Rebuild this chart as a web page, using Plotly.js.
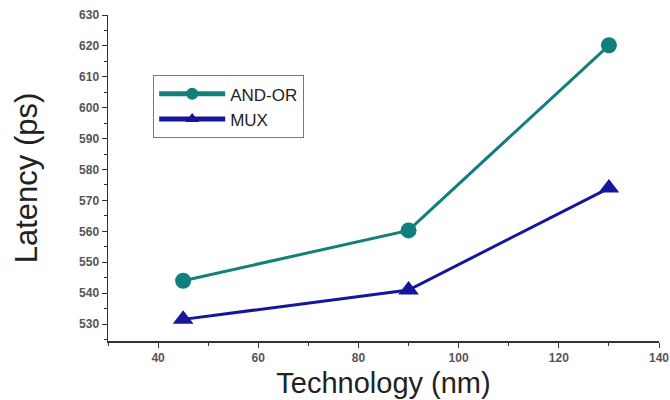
<!DOCTYPE html>
<html><head><meta charset="utf-8">
<script src="https://cdn.plot.ly/plotly-3.0.1.min.js"></script>
<style>body{margin:0;background:#fff}#c{width:670px;height:400px}</style>
</head><body><div id="c"></div>
<script>
const technology = [45, 90, 130];
const andOr = [544, 560.3, 620.2];
const mux = [531.5, 541, 574];
const xTicks = [40, 60, 80, 100, 120, 140];
const yTicks = [530, 540, 550, 560, 570, 580, 590, 600, 610, 620, 630];

const traces = [
  {x: technology, y: andOr, name: 'AND-OR', mode: 'lines+markers', type: 'scatter',
   line: {color: '#137f7c', width: 3}, marker: {symbol: 'circle', size: 16, color: '#137f7c'}},
  {x: technology, y: mux, name: 'MUX', mode: 'lines+markers', type: 'scatter',
   line: {color: '#16169c', width: 3}, marker: {symbol: 'triangle-up', size: 18, color: '#16169c'}}
];
const axFont = {family: 'Liberation Sans, Arial', size: 12, color: '#555', weight: 'bold'};
const layout = {
  width: 670, height: 400,
  margin: {l: 108, r: 11, t: 15, b: 59},
  paper_bgcolor: '#fff', plot_bgcolor: '#fff',
  showlegend: true,
  legend: {x: 0.082, y: 0.815, xanchor: 'left', yanchor: 'top', bordercolor: '#777', borderwidth: 1,
           font: {family: 'Liberation Sans, Arial', size: 17, color: '#222'}, bgcolor: '#fff',
           tracegroupgap: 0, itemwidth: 66, itemsizing: 'constant'},
  xaxis: {range: [30, 140], tickvals: xTicks, ticktext: xTicks.map(String), showgrid: false, zeroline: false,
          showline: true, linecolor: '#333', linewidth: 1.5, ticks: 'outside', ticklen: 5, tickcolor: '#333',
          tickfont: axFont, automargin: false,
          minor: {dtick: 10, tick0: 0, ticks: 'outside', ticklen: 3, tickcolor: '#333'},
          title: {text: 'Technology (nm)', font: {family: 'Liberation Sans, Arial', size: 29, color: '#222'}, standoff: 9}},
  yaxis: {range: [524.5, 630], tickvals: yTicks, ticktext: yTicks.map(String), showgrid: false, zeroline: false,
          showline: true, linecolor: '#333', linewidth: 1.5, ticks: 'outside', ticklen: 5, tickcolor: '#333',
          tickfont: axFont, automargin: false,
          minor: {dtick: 5, tick0: 0, ticks: 'outside', ticklen: 3, tickcolor: '#333'},
          title: {text: 'Latency (ps)', font: {family: 'Liberation Sans, Arial', size: 31, color: '#222'}, standoff: 32}}
};
Plotly.newPlot('c', traces, layout, {displayModeBar: false, staticPlot: true});
</script></body></html>
